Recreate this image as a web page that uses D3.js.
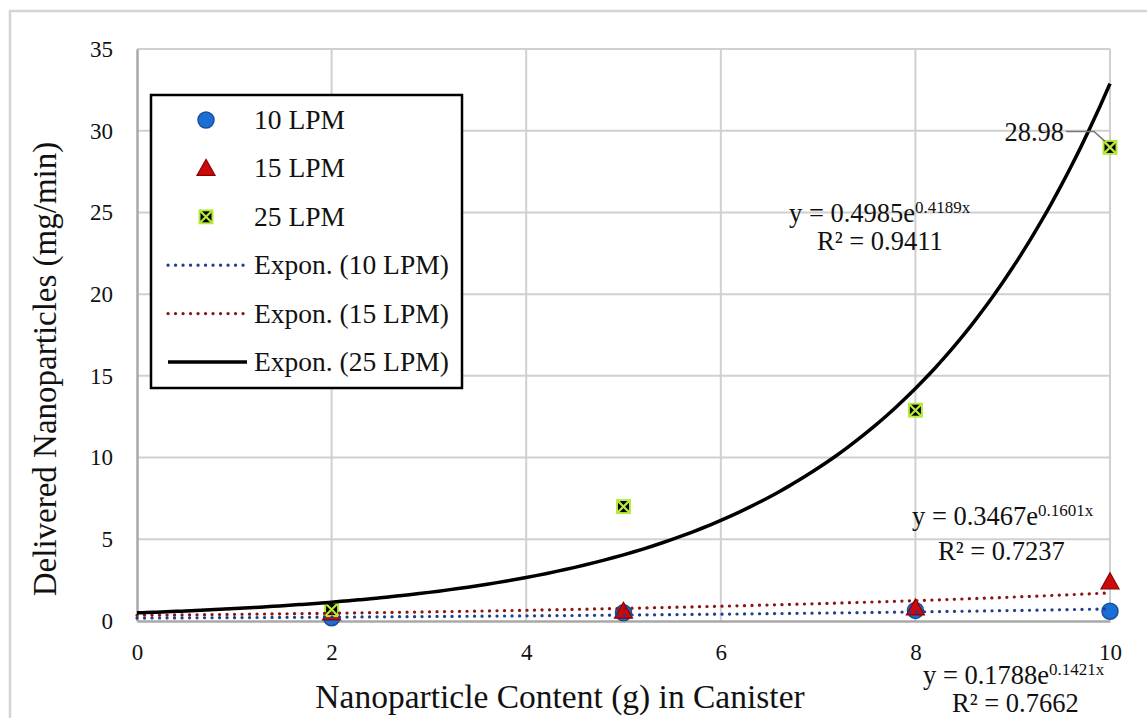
<!DOCTYPE html>
<html>
<head>
<meta charset="utf-8">
<script src="https://cdn.jsdelivr.net/npm/d3@7"></script>
<style>
  body { margin: 0; background: #fff; }
  svg text { font-family: "Liberation Serif", "Times New Roman", serif; fill: #111; }
</style>
</head>
<body>
<svg id="chart" width="1147" height="718"></svg>
<script>
// chart data
var xValues = [2, 5, 8, 10];
var lpm10 = [0.2, 0.5, 0.65, 0.6];
var lpm15 = [0.5, 0.6, 0.8, 2.4];
var lpm25 = [0.7, 7.0, 12.9, 28.98];
var seriesNames = ['10 LPM', '15 LPM', '25 LPM'];
// exponential trendlines y = a * e^(b x), as printed on the chart
var fitA = [0.1788, 0.3467, 0.4985];
var fitB = [0.1421, 0.1601, 0.4189];
var fitR2 = ['0.7662', '0.7237', '0.9411'];
var xTicks = [0, 2, 4, 6, 8, 10];
var yTicks = [0, 5, 10, 15, 20, 25, 30, 35];

var svg = d3.select('#chart');
var x = d3.scaleLinear().domain([0, 10]).range([137, 1110]);
var y = d3.scaleLinear().domain([0, 35]).range([621, 49]);

// outer frame
svg.append('rect').attr('x', 10).attr('y', 11).attr('width', 1160).attr('height', 740)
    .attr('fill', '#fff').attr('stroke', '#d4d4d4').attr('stroke-width', 2.5);

// gridlines
svg.append('g').selectAll('line').data(yTicks.slice(1)).enter().append('line')
    .attr('x1', x(0)).attr('x2', x(10))
    .attr('y1', function (d) { return y(d); }).attr('y2', function (d) { return y(d); })
    .attr('stroke', '#d0d0d0').attr('stroke-width', 2);
svg.append('g').selectAll('line').data(xTicks.slice(1)).enter().append('line')
    .attr('y1', y(0)).attr('y2', y(35))
    .attr('x1', function (d) { return x(d); }).attr('x2', function (d) { return x(d); })
    .attr('stroke', '#d0d0d0').attr('stroke-width', 2);

// axes (D3 axes, restyled)
var xAxis = svg.append('g').attr('transform', 'translate(0,' + y(0) + ')')
    .call(d3.axisBottom(x).tickValues(xTicks).tickSize(0).tickPadding(23));
var yAxis = svg.append('g').attr('transform', 'translate(' + x(0) + ',0)')
    .call(d3.axisLeft(y).tickValues(yTicks).tickSize(0).tickPadding(24));
[xAxis, yAxis].forEach(function (g) {
    g.attr('font-family', 'Liberation Serif').attr('font-size', 22);
    g.select('.domain').attr('stroke', '#a8a8a8').attr('stroke-width', 2.5);
    g.selectAll('text').attr('font-size', 23)
        .attr('font-family', 'Liberation Serif')
        .style('font-family', 'Liberation Serif, serif').attr('fill', '#111');
});

// axis titles
svg.append('text').attr('x', 560).attr('y', 708).attr('text-anchor', 'middle')
    .attr('font-size', 33.5).text('Nanoparticle Content (g) in Canister');
svg.append('text').attr('transform', 'translate(56,' + 369 + ') rotate(-90)')
    .attr('text-anchor', 'middle').attr('font-size', 33)
    .text('Delivered Nanoparticles (mg/min)');

// marker drawers
var drawCircle = function (g, cx, cy) {
    g.append('circle').attr('cx', cx).attr('cy', cy).attr('r', 8)
        .attr('fill', '#1a6fd6').attr('stroke', '#1c4f99').attr('stroke-width', 1.5);
};
var drawTriangle = function (g, cx, cy) {
    g.append('path').attr('transform', 'translate(' + cx + ',' + cy + ')')
        .attr('d', 'M0,-9L9,7L-9,7Z')
        .attr('fill', '#cc0a0a').attr('stroke', '#8a0000').attr('stroke-width', 1.2);
};
var drawCross = function (g, cx, cy) {
    var s = 6.5;
    g.append('rect').attr('x', cx - s).attr('y', cy - s).attr('width', 2 * s).attr('height', 2 * s)
        .attr('fill', '#000').attr('stroke', '#b8ea3c').attr('stroke-width', 2);
    g.append('path').attr('d', 'M' + (cx - s) + ',' + (cy - s) + 'L' + (cx + s) + ',' + (cy + s)
        + 'M' + (cx + s) + ',' + (cy - s) + 'L' + (cx - s) + ',' + (cy + s))
        .attr('stroke', '#b8ea3c').attr('stroke-width', 2.2);
};
var drawers = [drawCircle, drawTriangle, drawCross];
var seriesValues = [lpm10, lpm15, lpm25];

// data points
var pts = svg.append('g');
seriesValues.forEach(function (vals, si) {
    vals.forEach(function (v, i) { drawers[si](pts, x(xValues[i]), y(v)); });
});

// trendlines
var fitStyles = [
    { color: '#1f3f8f', width: 3.2, dash: '0.1 7.4', cap: 'round' },
    { color: '#8b1414', width: 3.2, dash: '0.1 7.4', cap: 'round' },
    { color: '#000', width: 3.5, dash: null, cap: 'butt' }
];
var xs = d3.range(0, 10.001, 0.1);
var line = d3.line().x(function (d) { return x(d[0]); }).y(function (d) { return y(d[1]); })
    .curve(d3.curveMonotoneX);
fitA.forEach(function (a, i) {
    var p = svg.append('path')
        .attr('d', line(xs.map(function (t) { return [t, a * Math.exp(fitB[i] * t)]; })))
        .attr('fill', 'none').attr('stroke', fitStyles[i].color)
        .attr('stroke-width', fitStyles[i].width).attr('stroke-linecap', fitStyles[i].cap);
    if (fitStyles[i].dash) p.attr('stroke-dasharray', fitStyles[i].dash);
});

// data label for last 25 LPM point with leader line
var lastX = x(xValues[3]), lastY = y(lpm25[3]);
svg.append('path')
    .attr('d', 'M1066,' + (lastY - 16) + 'L1094,' + (lastY - 16) + 'L' + (lastX - 5) + ',' + (lastY - 6))
    .attr('fill', 'none').attr('stroke', '#777').attr('stroke-width', 1.5);
svg.append('text').attr('x', 1064).attr('y', lastY - 6).attr('text-anchor', 'end')
    .attr('font-size', 26.5).text(lpm25[3].toFixed(2));

// trendline equations
var eqPos = [
    { x: 923, y: 684, rx: 952, ry: 712 },
    { x: 912, y: 525, rx: 938, ry: 560 },
    { x: 789, y: 222, rx: 817, ry: 250 }
];
fitA.forEach(function (a, i) {
    var t = svg.append('text').attr('x', eqPos[i].x).attr('y', eqPos[i].y).attr('font-size', 26.5);
    t.append('tspan').text('y = ' + a.toFixed(4) + 'e');
    t.append('tspan').attr('dy', -9).attr('font-size', 17).text(fitB[i].toFixed(4) + 'x');
    svg.append('text').attr('x', eqPos[i].rx).attr('y', eqPos[i].ry).attr('font-size', 26.5)
        .text('R\u00b2 = ' + fitR2[i]);
});

// legend
var lg = svg.append('g');
lg.append('rect').attr('x', 151).attr('y', 95).attr('width', 311).attr('height', 293)
    .attr('fill', '#fff').attr('stroke', '#000').attr('stroke-width', 2.5);
var rowY = d3.range(6).map(function (i) { return 120 + i * 48.4; });
var legendLabels = seriesNames.concat(seriesNames.map(function (s) { return 'Expon. (' + s + ')'; }));
legendLabels.forEach(function (lab, i) {
    if (i < 3) {
        drawers[i](lg, 206, rowY[i]);
    } else {
        var st = fitStyles[i - 3];
        var l = lg.append('line').attr('x1', 168).attr('x2', 247).attr('y1', rowY[i]).attr('y2', rowY[i])
            .attr('stroke', st.color).attr('stroke-width', st.width).attr('stroke-linecap', st.cap);
        if (st.dash) l.attr('stroke-dasharray', st.dash);
    }
    lg.append('text').attr('x', 254).attr('y', rowY[i] + 9).attr('font-size', 27.5).text(lab);
});
</script>
</body>
</html>
